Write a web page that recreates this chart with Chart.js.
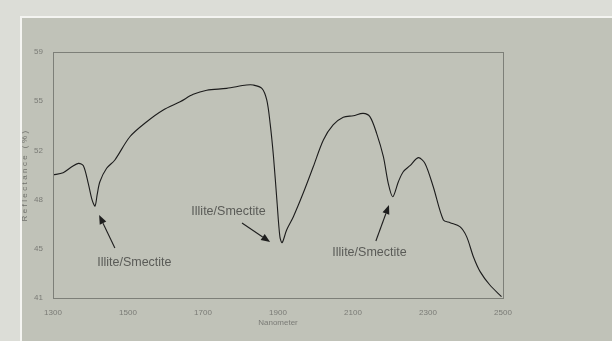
<!DOCTYPE html>
<html>
<head>
<meta charset="utf-8">
<script src="https://cdn.jsdelivr.net/npm/chart.js@4/dist/chart.umd.min.js"></script>
<style>
  html, body { margin:0; padding:0; }
  body { width:612px; height:341px; background:#dcddd7; position:relative; overflow:hidden; }
  #panel { position:absolute; left:20px; top:16px; width:600px; height:340px; background:#c0c2b8; border-left:2px solid #f4f4f1; border-top:2px solid #f4f4f1; }
  #wrap { position:absolute; left:0; top:0; width:612px; height:341px; }
</style>
</head>
<body>
<div id="panel"></div>
<div id="wrap"><canvas id="spectrum"></canvas></div>
<script>
// ---------------------------
// Data
// ---------------------------
const wavelengths = [1300,1327,1350,1368,1381,1394,1404,1412,1418,1425,1443,1465,1505,1550,1594,1639,1674,1710,1763,1816,1834,1857,1870,1879,1888,1897,1905,1911,1923,1941,1967,1994,2021,2047,2074,2101,2127,2145,2163,2181,2194,2206,2221,2234,2252,2274,2292,2314,2341,2359,2385,2403,2421,2439,2465,2496];
const reflectance = [50.0,50.17,50.6,50.85,50.68,49.39,48.2,47.73,48.6,49.51,50.49,51.1,52.8,53.9,54.76,55.36,55.9,56.2,56.34,56.58,56.58,56.34,55.49,53.78,51.34,48.17,45.49,45.05,45.98,46.95,48.66,50.6,52.56,53.66,54.22,54.34,54.51,54.27,53.05,51.34,49.39,48.41,49.51,50.24,50.68,51.27,50.85,49.14,46.71,46.51,46.22,45.49,44.02,42.93,41.95,41.1];

const xTicks = [1300,1500,1700,1900,2100,2300,2500];
const yTickValues = [41,44.6,48.2,51.8,55.4,59];
const yTickLabels = ['41','45','48','52','55','59'];

const noteText = ['Illite/Smectite','Illite/Smectite','Illite/Smectite'];
const noteAt = [[1517,43.56],[1768,47.29],[2144,44.29]];
const arrowFrom = [[1465,44.66],[1804,46.49],[2161,45.17]];
const arrowTo = [[1423,47.07],[1879,45.1],[2196,47.8]];

// ---------------------------
// Plugins
// ---------------------------
const frameAndNotes = {
  id:'frameAndNotes',
  afterDatasetsDraw(chart){
    const {ctx, chartArea:a, scales:{x, y}} = chart;
    ctx.save();
    ctx.strokeStyle = '#7d7f78'; ctx.lineWidth = 1;
    ctx.strokeRect(a.left+0.5, a.top+0.5, a.right-a.left, a.bottom-a.top);

    // y title, letter spaced
    ctx.save();
    ctx.translate(25, (a.top+a.bottom)/2);
    ctx.rotate(-Math.PI/2);
    ctx.font = '8px "Liberation Sans", Arial, sans-serif';
    ctx.letterSpacing = '2.4px';
    ctx.fillStyle = '#6f706b';
    ctx.textAlign = 'center'; ctx.textBaseline = 'middle';
    ctx.fillText('Reflectance (%)', 0, 0);
    ctx.restore();

    // annotations
    ctx.font = '12.5px "Liberation Sans", Arial, sans-serif';
    ctx.fillStyle = '#5a5b57';
    ctx.textAlign = 'center'; ctx.textBaseline = 'middle';
    noteText.forEach((t,i)=>{
      ctx.fillText(t, x.getPixelForValue(noteAt[i][0]), y.getPixelForValue(noteAt[i][1]));
    });
    ctx.strokeStyle = '#1e1e1e'; ctx.fillStyle = '#1e1e1e'; ctx.lineWidth = 1.1;
    arrowFrom.forEach((f,i)=>{
      const x0 = x.getPixelForValue(f[0]), y0 = y.getPixelForValue(f[1]);
      const x1 = x.getPixelForValue(arrowTo[i][0]), y1 = y.getPixelForValue(arrowTo[i][1]);
      const ang = Math.atan2(y1-y0, x1-x0);
      const len = 9, half = 3.6;
      const bx = x1 - len*Math.cos(ang), by = y1 - len*Math.sin(ang);
      ctx.beginPath(); ctx.moveTo(x0,y0); ctx.lineTo(bx,by); ctx.stroke();
      ctx.beginPath();
      ctx.moveTo(x1,y1);
      ctx.lineTo(bx + half*Math.sin(ang), by - half*Math.cos(ang));
      ctx.lineTo(bx - half*Math.sin(ang), by + half*Math.cos(ang));
      ctx.closePath(); ctx.fill();
    });
    ctx.restore();
  }
};

// ---------------------------
// Chart
// ---------------------------
const tickFont = { family:'"Liberation Sans", Arial, sans-serif', size:8 };

new Chart(document.getElementById('spectrum'), {
  type:'line',
  data:{
    datasets:[{
      data: wavelengths.map((w,i)=>({ x:w, y:reflectance[i] })),
      borderColor:'#1c1c1c', borderWidth:1.1, pointRadius:0, tension:0.3, fill:false
    }]
  },
  options:{
    responsive:true, maintainAspectRatio:false, animation:false,
    layout:{ padding:{ left:0, top:52, right:109, bottom:9 } },
    plugins:{ legend:{ display:false }, tooltip:{ enabled:false } },
    scales:{
      x:{
        type:'linear', min:1300, max:2500,
        afterBuildTicks: s => { s.ticks = xTicks.map(v=>({ value:v })); },
        afterFit: s => { s.height = 34; },
        grid:{ display:false, drawTicks:false },
        border:{ display:false },
        ticks:{ color:'#7a7b76', font:tickFont, padding:10, maxRotation:0, callback: v => String(v) },
        title:{ display:true, text:'Nanometer', color:'#7a7b76', font:tickFont, padding:{ top:0 } }
      },
      y:{
        min:41, max:59,
        afterBuildTicks: s => { s.ticks = yTickValues.map(v=>({ value:v })); },
        afterFit: s => { s.width = 53; },
        grid:{ display:false, drawTicks:false },
        border:{ display:false },
        ticks:{ color:'#7a7b76', font:tickFont, padding:10, callback:(v,i)=>yTickLabels[i] }
      }
    }
  },
  plugins:[frameAndNotes]
});
</script>
</body>
</html>
